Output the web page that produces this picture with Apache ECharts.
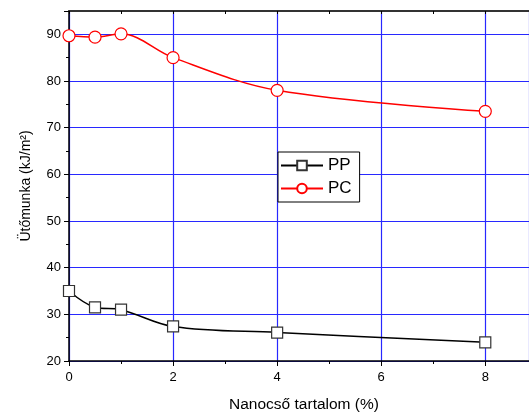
<!DOCTYPE html>
<html>
<head>
<meta charset="utf-8">
<script src="https://cdn.jsdelivr.net/npm/echarts@6/dist/echarts.min.js"></script>
<style>
  html, body { margin: 0; padding: 0; background: #fff; }
  #chart { width: 529px; height: 413px; }
</style>
</head>
<body>
<div id="chart"></div>
<script>
// nanotube content (%)
const xValues = [0, 0.5, 1, 2, 4, 8]
const ppValues = [35, 31.5, 31, 27.4, 26.1, 24]
const pcValues = [89.7, 89.4, 90.1, 85, 78, 73.5]
const seriesNames = ['PP', 'PC']

const chart = echarts.init(document.getElementById('chart'))

const font = 'Liberation Sans, Arial, sans-serif'
const gridBlue = 'rgb(40, 40, 255)'

const option = {
  backgroundColor: '#fff',
  animation: false,
  grid: { left: 69, right: 0, top: 11, bottom: 52, containLabel: false, outerBoundsMode: 'none' },
  legend: {
    orient: 'vertical',
    left: 278,
    top: 152,
    itemWidth: 42,
    itemHeight: 12,
    itemGap: 6,
    padding: [5, 8, 5, 2],
    backgroundColor: '#fff',
    borderColor: '#000',
    borderWidth: 1,
    textStyle: { fontFamily: font, fontSize: 17, color: '#000' },
    data: seriesNames
  },
  xAxis: [
    {
      type: 'value',
      min: 0,
      max: 8.84,
      interval: 2,
      name: 'Nanocső tartalom (%)',
      nameLocation: 'middle',
      nameGap: 36,
      nameTextStyle: { fontFamily: font, fontSize: 15.5, color: '#000', padding: [0, 0, 0, 10] },
      axisLine: { lineStyle: { color: '#000', width: 1.5 } },
      axisTick: { show: true, length: 5, lineStyle: { color: '#000' } },
      minorTick: { show: true, splitNumber: 2, length: 3, lineStyle: { color: '#000' } },
      axisLabel: { fontFamily: font, fontSize: 13, color: '#000', margin: 10, showMaxLabel: false },
      splitLine: { show: true, lineStyle: { color: gridBlue, width: 1.2, opacity: 1 } }
    },
    {
      type: 'value',
      position: 'top',
      min: 0,
      max: 8.84,
      interval: 2,
      axisLine: { show: true, onZero: false, lineStyle: { color: '#333', width: 2 } },
      axisTick: { show: true, inside: true, length: 3, lineStyle: { color: '#000' } },
      minorTick: { show: true, splitNumber: 2, length: 3, lineStyle: { color: '#000' } },
      axisLabel: { show: false },
      splitLine: { show: false }
    }
  ],
  yAxis: {
    type: 'value',
    min: 20,
    max: 95,
    interval: 10,
    name: 'Ütőmunka (kJ/m²)',
    nameLocation: 'middle',
    nameGap: 36,
    nameTextStyle: { fontFamily: font, fontSize: 14, color: '#000' },
    axisLine: { show: true, lineStyle: { color: '#000', width: 1.5 } },
    axisTick: { show: true, length: 5, lineStyle: { color: '#000' } },
    minorTick: { show: true, splitNumber: 2, length: 3, lineStyle: { color: '#000' } },
    axisLabel: {
      fontFamily: font, fontSize: 13, color: '#000', margin: 8,
      formatter: v => (v % 10 === 0 ? v : '')
    },
    splitLine: { show: true, lineStyle: { color: gridBlue, width: 1.2, opacity: 1 } }
  },
  series: [
    {
      name: seriesNames[0],
      type: 'line',
      smooth: 0.35,
      symbol: 'rect',
      symbolSize: 11,
      showAllSymbol: true,
      lineStyle: { color: '#000', width: 1.5 },
      itemStyle: { color: '#fff', borderColor: '#333', borderWidth: 1.2 },
      data: xValues.map((x, i) => [x, ppValues[i]]),
      z: 3
    },
    {
      name: seriesNames[1],
      type: 'line',
      smooth: 0.35,
      symbol: 'circle',
      symbolSize: 12,
      showAllSymbol: true,
      lineStyle: { color: '#ff0000', width: 1.5 },
      itemStyle: { color: '#fff', borderColor: '#ff0000', borderWidth: 1.2 },
      data: xValues.map((x, i) => [x, pcValues[i]]),
      z: 3
    }
  ]
}

chart.setOption(option)
</script>
</body>
</html>
